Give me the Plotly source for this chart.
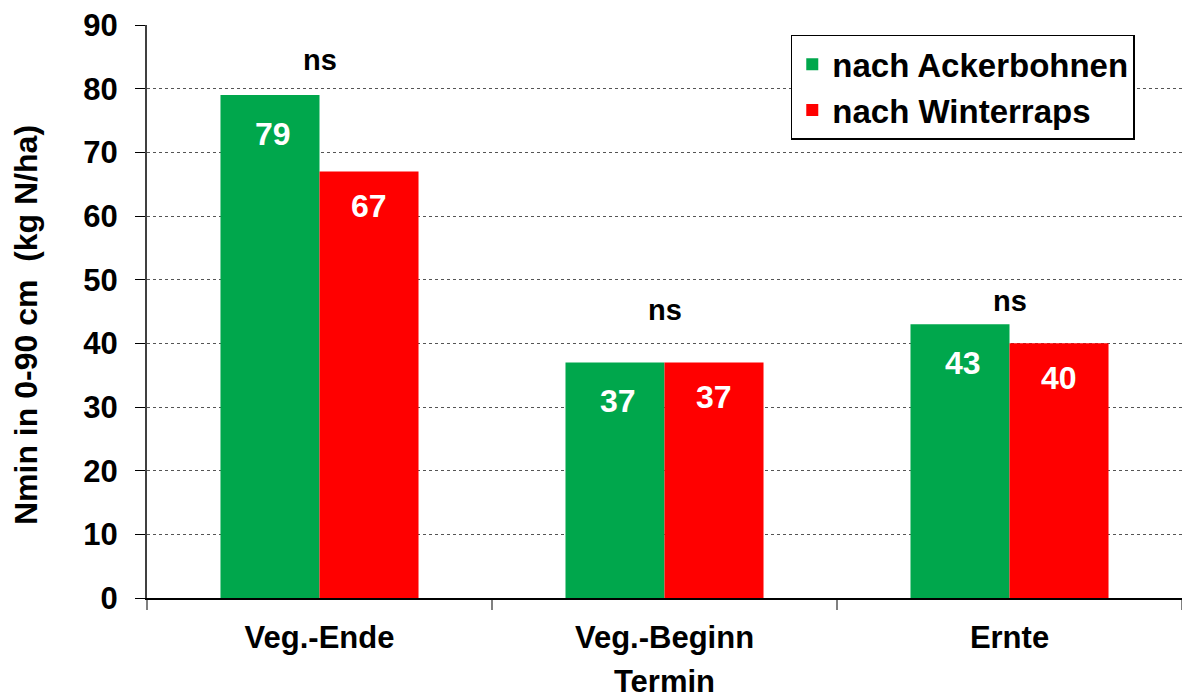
import plotly.graph_objects as go

categories = ["Veg.-Ende", "Veg.-Beginn", "Ernte"]
ackerbohnen = [79, 37, 43]
winterraps = [67, 37, 40]
sig_labels = ["ns", "ns", "ns"]
sig_y = [84.5, 45.2, 46.6]
y_title = "Nmin in 0-90 cm\u00a0\u00a0(kg N/ha)"
x_title = "Termin"

green = "#00A74C"
red = "#FF0000"
font_family = "Liberation Sans, Arial, sans-serif"

fig = go.Figure()
fig.add_trace(go.Bar(name="<b>nach Ackerbohnen</b>", x=categories, y=ackerbohnen,
                     marker=dict(color=green, line=dict(width=0))))
fig.add_trace(go.Bar(name="<b>nach Winterraps</b>", x=categories, y=winterraps,
                     marker=dict(color=red, line=dict(width=0))))

annotations = []
for i, c in enumerate(categories):
    annotations.append(dict(x=c, y=ackerbohnen[i], xref="x", yref="y", text=f"<b>{ackerbohnen[i]}</b>",
                            showarrow=False, xshift=-47, yshift=-39,
                            font=dict(size=32, color="white", family=font_family)))
    annotations.append(dict(x=c, y=winterraps[i], xref="x", yref="y", text=f"<b>{winterraps[i]}</b>",
                            showarrow=False, xshift=49, yshift=-35,
                            font=dict(size=32, color="white", family=font_family)))
    annotations.append(dict(x=c, y=sig_y[i], xref="x", yref="y", text=f"<b>{sig_labels[i]}</b>",
                            showarrow=False, font=dict(size=29, color="black", family=font_family)))

# y-axis title as rotated annotation
annotations.append(dict(x=0, y=0.4764, xref="paper", yref="paper", xanchor="center", yanchor="middle",
                        xshift=-121, text=f"<b>{y_title}</b>", textangle=-90, showarrow=False,
                        font=dict(size=32, color="black", family=font_family)))

fig.update_layout(
    width=1182, height=700,
    margin=dict(l=147, r=0, t=25, b=102, autoexpand=False),
    paper_bgcolor="white", plot_bgcolor="white",
    barmode="group", bargap=0.426, bargroupgap=0,
    font=dict(family=font_family, color="black"),
    annotations=annotations,
    showlegend=True,
    legend=dict(x=0.622, y=0.983, xanchor="left", yanchor="top",
                bgcolor="white", bordercolor="black", borderwidth=1.5,
                font=dict(size=33, family=font_family, color="black"),
                itemwidth=30, traceorder="normal"),
    xaxis=dict(
        title=dict(text=f"<b>{x_title}</b>", font=dict(size=31), standoff=16),
        tickfont=dict(size=31),
        tickprefix="<b>", ticksuffix="</b>",
        showline=True, linecolor="black", linewidth=2,
        ticks="outside", tickson="boundaries", ticklen=10, tickcolor="#808080", tickwidth=2,
        ticklabelstandoff=11,
        showgrid=False, automargin=False,
    ),
    yaxis=dict(
        range=[0, 90], dtick=10,
        tickfont=dict(size=31),
        tickprefix="<b>", ticksuffix="</b>",
        showline=True, linecolor="#404040", linewidth=2,
        ticks="outside", ticklen=10, tickcolor="black", tickwidth=1,
        ticklabelstandoff=11,
        showgrid=True, gridcolor="#555555", griddash="dot", gridwidth=1,
        zeroline=False, automargin=False,
    ),
)

fig.write_html("out.html", config={"displayModeBar": False},
               post_script="document.body.style.margin='0';document.body.style.overflow='hidden';")
